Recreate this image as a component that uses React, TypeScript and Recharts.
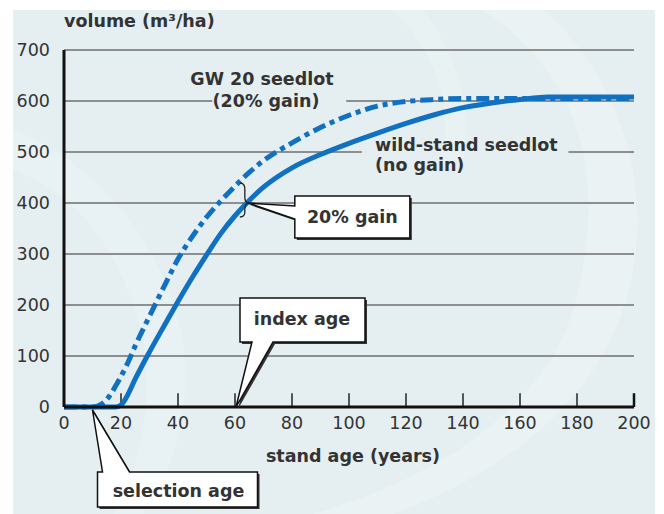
import { LineChart, Line, XAxis, YAxis, ReferenceLine, ReferenceDot } from "recharts";

// stand age (years)
const ages = [0, 10, 13, 16, 18, 20, 22, 25, 30, 35, 40, 45, 50, 55, 60, 65, 70, 80, 90, 100, 110, 120, 130, 140, 150, 160, 170, 180, 190, 200];
// volume (m3/ha), wild-stand seedlot (no gain)
const wildStand = [0, 0, 0, 0, 0, 4, 20, 55, 108, 158, 207, 254, 298, 340, 375, 405, 431, 469, 495, 517, 537, 556, 573, 587, 596, 603, 608, 608, 608, 608];
// volume (m3/ha), GW 20 seedlot (20% gain)
const gw20 = [0, 0, 5, 22, 40, 60, 82, 120, 178, 235, 290, 334, 372, 404, 433, 460, 483, 518, 548, 572, 590, 599, 603, 605, 605, 605, 605, 605, 605, 605];

const xTicks = [0, 20, 40, 60, 80, 100, 120, 140, 160, 180, 200];
const yTicks = [0, 100, 200, 300, 400, 500, 600, 700];

const data = ages.map((age, i) => ({ age, wild: wildStand[i], gw: gw20[i] }));

const BLUE = "#1070c2";
const TEXT = "#333";
const FONT = "DejaVu Sans, Verdana, sans-serif";
const GRID = "#6e6e6e";

const labelStyle = { fontFamily: FONT, fontSize: 17.5, fontWeight: 700, fill: TEXT } as const;

// gridline pieces, broken where the series labels sit
const gridSegments: [number, number, number][] = [
  [100, 0, 200],
  [200, 0, 200],
  [300, 0, 200],
  [400, 0, 200],
  [500, 0, 104.5],
  [500, 177, 200],
  [600, 0, 52],
  [600, 99, 200],
  [700, 0, 200],
];

function GainCallout({ cx, cy }: { cx?: number; cy?: number }) {
  if (cx == null || cy == null) return null;
  const bubble = "M47,-7 H162 V35 H47 V16 L0,0 L47,3 Z";
  return (
    <g transform={`translate(${cx},${cy})`}>
      <path d="M-8,-20 Q-3,-20 -3,-14 L-3,-6 Q-3,0 1,0 Q-3,0 -3,6 L-3,9 Q-3,14 -8,14" fill="none" stroke="#222" strokeWidth={1.3} />
      <path d={bubble} transform="translate(2,2)" fill="#333" />
      <path d={bubble} fill="#fff" stroke="#111" strokeWidth={1.5} />
      <text x={104.5} y={20} textAnchor="middle" {...labelStyle}>20% gain</text>
    </g>
  );
}

function IndexCallout({ cx, cy }: { cx?: number; cy?: number }) {
  if (cx == null || cy == null) return null;
  const bubble = "M5,-109 H130 V-65 H38 L1,0 L17,-65 H5 Z";
  return (
    <g transform={`translate(${cx},${cy})`}>
      <path d={bubble} transform="translate(2,2)" fill="#333" />
      <path d={bubble} fill="#fff" stroke="#111" strokeWidth={1.5} />
      <text x={67} y={-82} textAnchor="middle" {...labelStyle}>index age</text>
    </g>
  );
}

function SelectionCallout({ cx, cy }: { cx?: number; cy?: number }) {
  if (cx == null || cy == null) return null;
  const bubble = "M5,65 H10 L0,3 L37,65 H165 V100 H5 Z";
  return (
    <g transform={`translate(${cx},${cy})`}>
      <path d={bubble} transform="translate(2,2)" fill="#333" />
      <path d={bubble} fill="#fff" stroke="#111" strokeWidth={1.5} />
      <text x={86} y={90} textAnchor="middle" {...labelStyle}>selection age</text>
    </g>
  );
}

export default function App() {
  return (
    <div style={{ position: "absolute", left: 0, top: 0, width: 664, height: 514, background: "#fff", overflow: "hidden" }}>
      <div style={{ position: "absolute", left: 13, top: 10, width: 642, height: 504, background: "#e5eff1" }}>
        <svg width={642} height={504} style={{ position: "absolute", left: 0, top: 0 }}>
          <path d="M470,0 C560,60 600,160 560,300 C530,400 420,470 300,504 L380,504 C500,460 600,380 620,260 C640,150 590,50 530,0 Z" fill="#fff" opacity={0.2} />
          <path d="M0,120 C80,150 150,230 170,330 C180,400 160,460 130,504 L100,504 C130,450 140,390 130,330 C110,240 60,180 0,160 Z" fill="#fff" opacity={0.14} />
          <path d="M380,0 C420,40 440,90 430,150 L450,150 C460,90 440,40 410,0 Z" fill="#fff" opacity={0.18} />
        </svg>
      </div>
      <div style={{ position: "absolute", left: 0, top: 0 }}>
        <LineChart width={664} height={514} data={data} margin={{ top: 50, right: 30, bottom: 77, left: 14 }}>
          <XAxis
            dataKey="age"
            type="number"
            domain={[0, 200]}
            ticks={xTicks}
            interval={0}
            height={30}
            tickLine={false}
            tickSize={6}
            tickMargin={4}
            axisLine={{ stroke: "#111", strokeWidth: 3 }}
            tick={{ fill: TEXT, fontSize: 17.5, fontFamily: FONT }}
          />
          <YAxis
            type="number"
            domain={[0, 700]}
            ticks={yTicks}
            interval={0}
            width={50}
            tickLine={false}
            tickSize={6}
            tickMargin={8}
            axisLine={{ stroke: "#111", strokeWidth: 3 }}
            tick={{ fill: TEXT, fontSize: 17.5, fontFamily: FONT }}
          />
          {gridSegments.map(([v, a, b]) => (
            <ReferenceLine
              key={`g${v}-${a}`}
              segment={[{ x: a, y: v }, { x: b, y: v }]}
              stroke={GRID}
              strokeWidth={1.6}
              ifOverflow="visible"
            />
          ))}
          {xTicks.slice(1).map((t) => (
            <ReferenceLine
              key={`t${t}`}
              segment={[{ x: t, y: 0 }, { x: t, y: 27 }]}
              stroke={t === 200 ? "#111" : "#555"}
              strokeWidth={t === 200 ? 2.5 : 2}
              ifOverflow="visible"
            />
          ))}
          <Line type="monotone" dataKey="wild" stroke={BLUE} strokeWidth={5} dot={false} activeDot={false} isAnimationActive={false} />
          <Line
            type="monotone"
            dataKey="gw"
            stroke={BLUE}
            strokeWidth={5}
            strokeDasharray="13 5 5 5"
            dot={false}
            activeDot={false}
            isAnimationActive={false}
          />
          <ReferenceDot x={64.5} y={400} r={0} ifOverflow="visible" shape={(p: any) => <GainCallout cx={p.cx} cy={p.cy} />} />
          <ReferenceDot x={60} y={0} r={0} ifOverflow="visible" shape={(p: any) => <IndexCallout cx={p.cx} cy={p.cy} />} />
          <ReferenceDot x={10} y={0} r={0} ifOverflow="visible" shape={(p: any) => <SelectionCallout cx={p.cx} cy={p.cy} />} />
        </LineChart>
      </div>
      <svg width={664} height={514} style={{ position: "absolute", left: 0, top: 0, pointerEvents: "none" }}>
        <text x={64} y={27} {...labelStyle}>volume  (m³/ha)</text>
        <text x={262} y={85} textAnchor="middle" {...labelStyle}>GW 20 seedlot</text>
        <text x={266} y={107} textAnchor="middle" {...labelStyle}>(20% gain)</text>
        <text x={375} y={151} {...labelStyle}>wild-stand seedlot</text>
        <text x={375} y={171} {...labelStyle}>(no gain)</text>
        <text x={353} y={462} textAnchor="middle" {...labelStyle}>stand age (years)</text>
      </svg>
    </div>
  );
}
